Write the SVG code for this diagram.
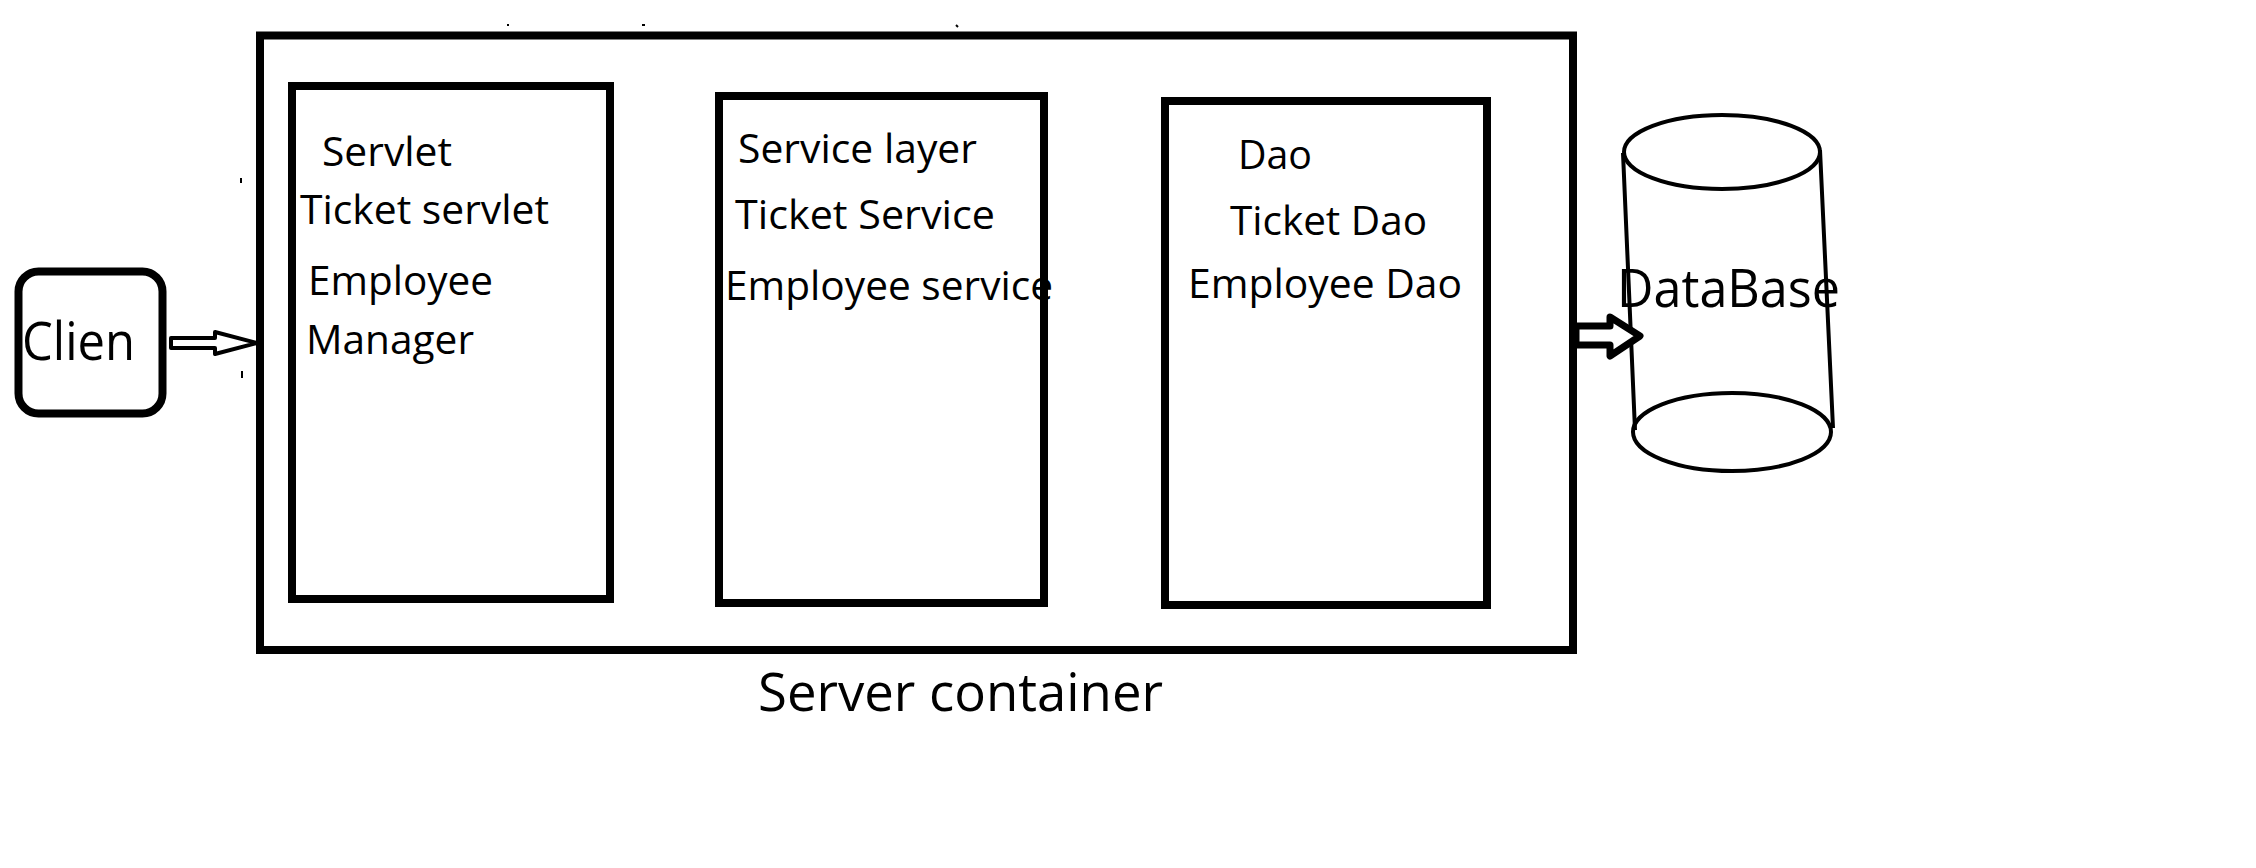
<svg xmlns="http://www.w3.org/2000/svg" width="2256" height="868" viewBox="0 0 2256 868">
<style>
.box{fill:none;stroke:#000;stroke-width:8}
.t{font-family:"Open Sans","Noto Sans","DejaVu Sans",sans-serif;fill:#000}
.s{font-size:41px}
.l{font-size:53px}
.arr{fill:#fff;stroke:#000;stroke-linejoin:round}
.db{fill:none;stroke:#000;stroke-width:4}
</style>
<rect width="2256" height="868" fill="#fff"/>
<g id="server-container">
<rect class="box" x="260" y="35.5" width="1313" height="614.5" stroke-width="7"/>
<text class="t l" x="758" y="711" textLength="405" lengthAdjust="spacingAndGlyphs">Server container</text>
</g>
<g id="servlet">
<rect class="box" x="292" y="86" width="318" height="513"/>
<text class="t s" x="322" y="166" textLength="130" lengthAdjust="spacingAndGlyphs">Servlet</text>
<text class="t s" x="300" y="224" textLength="249" lengthAdjust="spacingAndGlyphs">Ticket servlet</text>
<text class="t s" x="308" y="295" textLength="185" lengthAdjust="spacingAndGlyphs">Employee</text>
<text class="t s" x="306" y="354" textLength="168" lengthAdjust="spacingAndGlyphs">Manager</text>
</g>
<g id="service">
<rect class="box" x="719" y="96" width="325" height="507"/>
<text class="t s" x="738" y="163" textLength="239" lengthAdjust="spacingAndGlyphs">Service layer</text>
<text class="t s" x="735" y="229" textLength="260" lengthAdjust="spacingAndGlyphs">Ticket Service</text>
<text class="t s" x="725" y="300" textLength="328" lengthAdjust="spacingAndGlyphs">Employee service</text>
</g>
<g id="dao">
<rect class="box" x="1165" y="101" width="322" height="504"/>
<text class="t s" x="1238" y="169" textLength="74" lengthAdjust="spacingAndGlyphs">Dao</text>
<text class="t s" x="1230" y="235" textLength="197" lengthAdjust="spacingAndGlyphs">Ticket Dao</text>
<text class="t s" x="1188" y="298" textLength="274" lengthAdjust="spacingAndGlyphs">Employee Dao</text>
</g>
<g id="client">
<rect class="box" x="18.5" y="271.5" width="144" height="142" rx="20" stroke-width="7"/>
<text class="t l" x="22" y="360" textLength="113" lengthAdjust="spacingAndGlyphs">Clien</text>
</g>
<g id="database">
<path class="db" d="M1623,153 L1635,430 M1820,150 L1833,428"/>
<ellipse class="db" cx="1722" cy="152" rx="98" ry="37" fill="#fff"/>
<ellipse class="db" cx="1732" cy="432" rx="99" ry="39" fill="#fff"/>
<text class="t l" x="1617" y="307" textLength="223" lengthAdjust="spacingAndGlyphs">DataBase</text>
</g>
<g id="connectors">
<polygon class="arr" stroke-width="4" points="171,338 215,338 215,332 257,343 215,354 215,348 171,348"/>
<polygon class="arr" stroke-width="7" points="1576,326 1610,326 1610,317 1640,336 1610,356 1610,345 1576,345"/>
</g>
<g id="marks" stroke="#000" stroke-width="2">
<line x1="242" y1="371" x2="242" y2="378"/>
<line x1="241" y1="178" x2="241" y2="183"/>
<line x1="507" y1="25" x2="509" y2="25"/>
<line x1="642" y1="25" x2="645" y2="25"/>
<line x1="956" y1="25" x2="958" y2="27"/>
</g>
</svg>
